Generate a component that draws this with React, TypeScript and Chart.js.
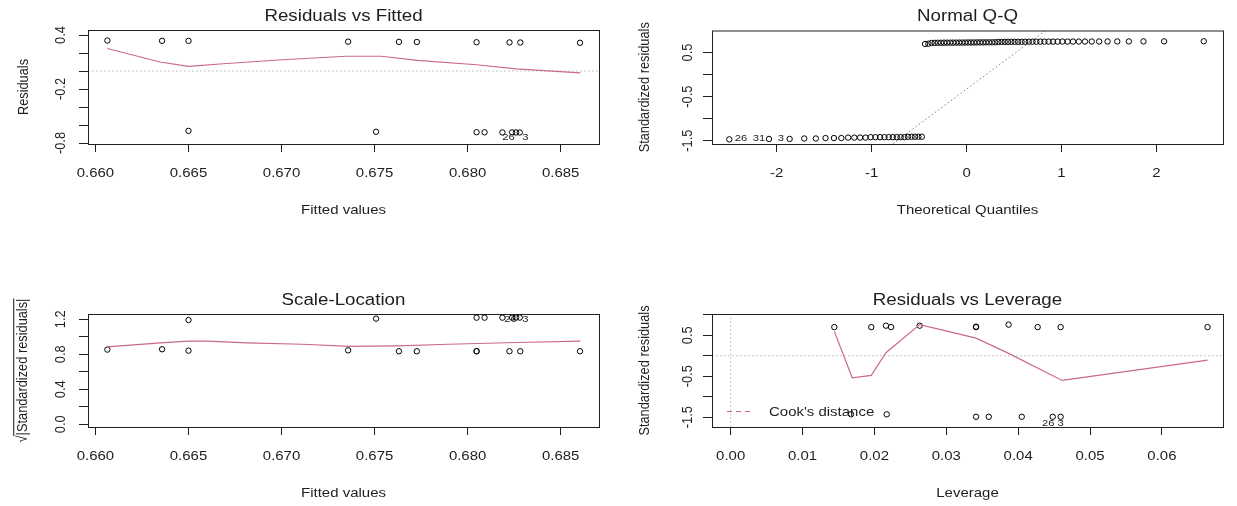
import { useEffect, useRef } from "react";
import { Chart, registerables } from "chart.js";

Chart.register(...registerables);

const PAGE_W = 1237;
const PAGE_H = 506;
const FONT = '"Liberation Sans", Arial, Helvetica, sans-serif';
const TEXT_SIZE = 12.8;
const STRETCH = 1.17;
const INK = "#1e1e1e";
const SMOOTH_RED = "#cb6a80";
const REF_GRAY = "#b4b4b4";
const QQ_GRAY = "#7f7f7f";

// ---------- Residuals vs Fitted ----------
const rvfFitted = [
  0.66064, 0.66358, 0.665, 0.67358, 0.67631, 0.67727, 0.68048, 0.68225, 0.68283, 0.68604,
  0.665, 0.67508, 0.68048, 0.68091, 0.68187, 0.68239, 0.6826, 0.6828,
];
const rvfResid = [
  0.339, 0.336, 0.335, 0.326, 0.324, 0.323, 0.32, 0.318, 0.317, 0.314,
  -0.665, -0.675, -0.68, -0.681, -0.682, -0.682, -0.683, -0.683,
];
const rvfSmoothX = [0.66064, 0.66347, 0.665, 0.66687, 0.66984, 0.67346, 0.67537, 0.67729, 0.68048, 0.6826, 0.68606];
const rvfSmoothY = [0.25, 0.1, 0.051, 0.081, 0.1225, 0.164, 0.164, 0.119, 0.07, 0.025, -0.02];
const rvfIdX = [0.6822, 0.6831];
const rvfIdY = [-0.736, -0.736];
const rvfIdText = ["26", "3"];

const fittedTicks = [0.66, 0.665, 0.67, 0.675, 0.68, 0.685];
const fittedTickLabels = ["0.660", "0.665", "0.670", "0.675", "0.680", "0.685"];
const residTicks = [-0.8, -0.6, -0.4, -0.2, 0, 0.2, 0.4];
const residLabelAt = [-0.8, -0.2, 0.4];
const residLabelText = ["-0.8", "-0.2", "0.4"];

// ---------- Normal Q-Q ----------
const qqTheoretical = [
  -2.4977, -2.0801, -1.8627, -1.7087, -1.5868, -1.4847, -1.3963, -1.318, -1.247, -1.1815,
  -1.1203, -1.0637, -1.0099, -0.9592, -0.9107, -0.8642, -0.8196, -0.7764, -0.7346, -0.6943,
  -0.6549, -0.6166, -0.5791, -0.5425, -0.5066, -0.4712, -0.4364, -0.4022, -0.3684, -0.3351,
  -0.3021, -0.2694, -0.2371, -0.2051, -0.1733, -0.1416, -0.11, -0.0784, -0.047, -0.0157,
  0.0157, 0.047, 0.0784, 0.11, 0.1416, 0.1733, 0.2051, 0.2371, 0.2694, 0.3021,
  0.3351, 0.3684, 0.4022, 0.4364, 0.4712, 0.5066, 0.5425, 0.5791, 0.6166, 0.6549,
  0.6943, 0.7346, 0.7764, 0.8196, 0.8642, 0.9107, 0.9592, 1.0099, 1.0637, 1.1203,
  1.1815, 1.247, 1.318, 1.3963, 1.4847, 1.5868, 1.7087, 1.8627, 2.0801, 2.4977,
];
const qqStdResid = [
  -1.47, -1.46, -1.46, -1.45, -1.45, -1.44, -1.44, -1.44, -1.43, -1.43,
  -1.43, -1.43, -1.42, -1.42, -1.42, -1.42, -1.42, -1.42, -1.42, -1.42,
  -1.42, -1.41, -1.41, -1.41, -1.41, -1.41,
  0.695, 0.7, 0.718, 0.72, 0.722, 0.722, 0.724, 0.724, 0.725, 0.725,
  0.726, 0.726, 0.727, 0.727, 0.728, 0.728, 0.729, 0.729, 0.73, 0.73,
  0.731, 0.731, 0.732, 0.733,
  0.74, 0.741, 0.742, 0.742, 0.743, 0.743, 0.744, 0.744, 0.745, 0.745,
  0.746, 0.746, 0.747, 0.747, 0.748, 0.748, 0.748, 0.749, 0.749, 0.749,
  0.75, 0.75, 0.75, 0.751, 0.751, 0.752, 0.752, 0.753, 0.754, 0.756,
];
const qqLineX = [-2.7, 2.7];
const qqLineY = [-4.65, 3.99];
const qqIdX = [-2.375, -2.186, -1.955];
const qqIdY = [-1.45, -1.45, -1.45];
const qqIdText = ["26", "31", "3"];

const quantTicks = [-2, -1, 0, 1, 2];
const quantTickLabels = ["-2", "-1", "0", "1", "2"];
const stdTicks = [-1.5, -1, -0.5, 0, 0.5];
const stdLabelAt = [-1.5, -0.5, 0.5];
const stdLabelText = ["-1.5", "-0.5", "0.5"];

// ---------- Scale-Location ----------
const slFitted = [
  0.66064, 0.66358, 0.665, 0.67358, 0.67631, 0.67727, 0.68048, 0.68048, 0.68225, 0.68283, 0.68604,
  0.665, 0.67508, 0.68048, 0.68091, 0.68187, 0.68239, 0.6826, 0.6828,
];
const slRootStd = [
  0.854, 0.858, 0.842, 0.846, 0.835, 0.835, 0.835, 0.836, 0.835, 0.835, 0.835,
  1.192, 1.208, 1.219, 1.219, 1.219, 1.219, 1.22, 1.22,
];
const slSmoothX = [0.66064, 0.66347, 0.665, 0.66602, 0.66814, 0.67112, 0.67367, 0.67622, 0.67898, 0.6826, 0.68606];
const slSmoothY = [0.885, 0.93, 0.95, 0.95, 0.93, 0.915, 0.89, 0.896, 0.915, 0.935, 0.95];
const slIdX = [0.6823, 0.6831];
const slIdY = [1.205, 1.205];
const slIdText = ["26", "3"];

const rootTicks = [0, 0.2, 0.4, 0.6, 0.8, 1, 1.2];
const rootLabelAt = [0, 0.4, 0.8, 1.2];
const rootLabelText = ["0.0", "0.4", "0.8", "1.2"];

// ---------- Residuals vs Leverage ----------
const levHat = [
  0.01442, 0.01956, 0.0216, 0.02232, 0.0263, 0.03414, 0.03414, 0.03867, 0.04271, 0.04591, 0.06635,
  0.01674, 0.02171, 0.03414, 0.03591, 0.0405, 0.04481, 0.04591,
];
const levStd = [
  0.7, 0.7, 0.735, 0.7, 0.735, 0.7, 0.71, 0.76, 0.7, 0.7, 0.7,
  -1.43, -1.43, -1.49, -1.49, -1.49, -1.49, -1.49,
];
const levSmoothX = [0.01442, 0.01691, 0.01956, 0.0216, 0.0263, 0.03414, 0.03867, 0.04613, 0.06635];
const levSmoothY = [0.595, -0.537, -0.48, 0.074, 0.76, 0.43, 0.058, -0.603, -0.107];
const levIdX = [0.0442, 0.0459];
const levIdY = [-1.64, -1.64];
const levIdText = ["26", "3"];

const levTicks = [0, 0.01, 0.02, 0.03, 0.04, 0.05, 0.06];
const levTickLabels = ["0.00", "0.01", "0.02", "0.03", "0.04", "0.05", "0.06"];
const levStdTicks = [-1.5, -1, -0.5, 0, 0.5, 1];

type Pt = { x: number; y: number };
const zip = (xs: number[], ys: number[]): Pt[] => xs.map((x, i) => ({ x, y: ys[i] }));

interface PanelDef {
  box: { left: number; right: number; top: number; bottom: number };
  xRange: [number, number];
  yRange: [number, number];
  xTicks: number[];
  xTickLabels: string[];
  yTicks: number[];
  yLabelAt: number[];
  yLabelText: string[];
  title: string;
  xTitle: string;
  yTitle: string;
  yTitleRoot?: boolean;
  yTickLabelX: number;
  yTitleX: number;
  points: Pt[];
  smooth: Pt[];
  refLines: { pts: Pt[]; color: string; dash: number[] }[];
  hRef?: number;
  vRef?: number;
  ids: { x: number; y: number; text: string }[];
  cookLegend?: boolean;
}

const ids = (xs: number[], ys: number[], t: string[]) => xs.map((x, i) => ({ x, y: ys[i], text: t[i] }));

const panels: PanelDef[] = [
  {
    box: { left: 88, right: 599, top: 30, bottom: 144 },
    xRange: [0.6596, 0.68706],
    yRange: [-0.811, 0.456],
    xTicks: fittedTicks,
    xTickLabels: fittedTickLabels,
    yTicks: residTicks,
    yLabelAt: residLabelAt,
    yLabelText: residLabelText,
    title: "Residuals vs Fitted",
    xTitle: "Fitted values",
    yTitle: "Residuals",
    yTickLabelX: 61,
    yTitleX: 24,
    points: zip(rvfFitted, rvfResid),
    smooth: zip(rvfSmoothX, rvfSmoothY),
    refLines: [],
    hRef: 0,
    ids: ids(rvfIdX, rvfIdY, rvfIdText),
  },
  {
    box: { left: 712, right: 1223, top: 30.5, bottom: 144 },
    xRange: [-2.68, 2.7],
    yRange: [-1.575, 1.0],
    xTicks: quantTicks,
    xTickLabels: quantTickLabels,
    yTicks: stdTicks,
    yLabelAt: stdLabelAt,
    yLabelText: stdLabelText,
    title: "Normal Q-Q",
    xTitle: "Theoretical Quantiles",
    yTitle: "Standardized residuals",
    yTickLabelX: 688,
    yTitleX: 645,
    points: zip(qqTheoretical, qqStdResid),
    smooth: [],
    refLines: [{ pts: zip(qqLineX, qqLineY), color: QQ_GRAY, dash: [1.5, 2.5] }],
    ids: ids(qqIdX, qqIdY, qqIdText),
  },
  {
    box: { left: 88, right: 599, top: 314, bottom: 427 },
    xRange: [0.6596, 0.68706],
    yRange: [-0.031, 1.261],
    xTicks: fittedTicks,
    xTickLabels: fittedTickLabels,
    yTicks: rootTicks,
    yLabelAt: rootLabelAt,
    yLabelText: rootLabelText,
    title: "Scale-Location",
    xTitle: "Fitted values",
    yTitle: "|Standardized residuals|",
    yTitleRoot: true,
    yTickLabelX: 61,
    yTitleX: 23,
    points: zip(slFitted, slRootStd),
    smooth: zip(slSmoothX, slSmoothY),
    refLines: [],
    ids: ids(slIdX, slIdY, slIdText),
  },
  {
    box: { left: 712, right: 1223, top: 314, bottom: 427 },
    xRange: [-0.0026, 0.0685],
    yRange: [-1.74, 1.02],
    xTicks: levTicks,
    xTickLabels: levTickLabels,
    yTicks: levStdTicks,
    yLabelAt: stdLabelAt,
    yLabelText: stdLabelText,
    title: "Residuals vs Leverage",
    xTitle: "Leverage",
    yTitle: "Standardized residuals",
    yTickLabelX: 688,
    yTitleX: 645,
    points: zip(levHat, levStd),
    smooth: zip(levSmoothX, levSmoothY),
    refLines: [],
    hRef: 0,
    vRef: 0,
    ids: ids(levIdX, levIdY, levIdText),
    cookLegend: true,
  },
];

function drawText(
  ctx: CanvasRenderingContext2D,
  s: string,
  x: number,
  y: number,
  size: number,
  rotate = false,
  align: CanvasTextAlign = "center",
) {
  ctx.save();
  ctx.translate(x, y);
  ctx.scale(STRETCH, 1);
  if (rotate) ctx.rotate(-Math.PI / 2);
  ctx.font = `${size}px ${FONT}`;
  ctx.fillStyle = INK;
  ctx.textAlign = align;
  ctx.textBaseline = "middle";
  ctx.fillText(s, 0, 0);
  ctx.restore();
}

function drawRootTitle(ctx: CanvasRenderingContext2D, body: string, x: number, y: number, size: number) {
  ctx.save();
  ctx.translate(x, y);
  ctx.scale(STRETCH, 1);
  ctx.rotate(-Math.PI / 2);
  ctx.font = `${size}px ${FONT}`;
  ctx.fillStyle = INK;
  ctx.strokeStyle = INK;
  ctx.textBaseline = "middle";
  const rad = "\u221A";
  const wr = ctx.measureText(rad).width;
  const wb = ctx.measureText(body).width;
  const start = -(wr + wb) / 2;
  ctx.textAlign = "left";
  ctx.fillText(rad, start, 0);
  ctx.fillText(body, start + wr, 0);
  ctx.lineWidth = 0.9;
  ctx.beginPath();
  ctx.moveTo(start + wr - 0.5, -size * 0.62);
  ctx.lineTo(start + wr + wb, -size * 0.62);
  ctx.stroke();
  ctx.restore();
}

function makePlugin(p: PanelDef) {
  return {
    id: "rPanel",
    afterDraw(chart: Chart) {
      const ctx = chart.ctx;
      const xs = chart.scales.x;
      const ys = chart.scales.y;
      const { left, right, top, bottom } = p.box;
      // plot frame
      ctx.save();
      ctx.strokeStyle = "#202020";
      ctx.lineWidth = 1;
      ctx.strokeRect(left + 0.5, top + 0.5, right - left, bottom - top);
      ctx.restore();

      drawText(ctx, p.title, (left + right) / 2, top - 13.5, TEXT_SIZE * 1.25);
      drawText(ctx, p.xTitle, (left + right) / 2, bottom + 66, TEXT_SIZE);
      if (p.yTitleRoot) drawRootTitle(ctx, p.yTitle, p.yTitleX, (top + bottom) / 2, TEXT_SIZE);
      else drawText(ctx, p.yTitle, p.yTitleX, (top + bottom) / 2, TEXT_SIZE, true);

      p.xTicks.forEach((v, i) => {
        drawText(ctx, p.xTickLabels[i], xs.getPixelForValue(v), bottom + 29, TEXT_SIZE);
      });
      p.yLabelAt.forEach((v, i) => {
        drawText(ctx, p.yLabelText[i], p.yTickLabelX, ys.getPixelForValue(v), TEXT_SIZE, true);
      });
      p.ids.forEach((d) => {
        drawText(ctx, d.text, xs.getPixelForValue(d.x), ys.getPixelForValue(d.y), TEXT_SIZE * 0.75);
      });

      if (p.cookLegend) {
        ctx.save();
        ctx.strokeStyle = SMOOTH_RED;
        ctx.lineWidth = 1;
        ctx.setLineDash([5, 4]);
        ctx.beginPath();
        ctx.moveTo(left + 15, bottom - 15.5);
        ctx.lineTo(left + 40, bottom - 15.5);
        ctx.stroke();
        ctx.restore();
        drawText(ctx, "Cook's distance", left + 57, bottom - 15, TEXT_SIZE, false, "left");
      }
    },
  };
}

function buildConfig(p: PanelDef): any {
  const datasets: any[] = [];
  if (p.smooth.length) {
    datasets.push({
      data: p.smooth,
      showLine: true,
      borderColor: SMOOTH_RED,
      borderWidth: 1.2,
      pointRadius: 0,
      tension: 0,
    });
  }
  datasets.push({
    data: p.points,
    showLine: false,
    pointRadius: 2.7,
    pointStyle: "circle",
    pointBorderWidth: 1,
    pointBorderColor: "#000",
    pointBackgroundColor: "rgba(0,0,0,0)",
  });
  p.refLines.forEach((r) =>
    datasets.push({
      data: r.pts,
      showLine: true,
      borderColor: r.color,
      borderWidth: 1,
      borderDash: r.dash,
      pointRadius: 0,
    }),
  );
  if (p.hRef !== undefined) {
    datasets.push({
      data: [
        { x: p.xRange[0], y: p.hRef },
        { x: p.xRange[1], y: p.hRef },
      ],
      showLine: true,
      borderColor: REF_GRAY,
      borderWidth: 1,
      borderDash: [1.5, 2.5],
      pointRadius: 0,
    });
  }
  if (p.vRef !== undefined) {
    datasets.push({
      data: [
        { x: p.vRef, y: p.yRange[0] },
        { x: p.vRef, y: p.yRange[1] },
      ],
      showLine: true,
      borderColor: REF_GRAY,
      borderWidth: 1,
      borderDash: [1.5, 2.5],
      pointRadius: 0,
    });
  }

  const axisCommon = {
    type: "linear",
    ticks: { display: false },
    border: { display: false },
  };

  return {
    type: "scatter",
    data: { datasets },
    options: {
      responsive: false,
      animation: false,
      events: [],
      layout: {
        padding: {
          left: p.box.left,
          right: PAGE_W - p.box.right,
          top: p.box.top,
          bottom: PAGE_H - p.box.bottom,
        },
      },
      plugins: {
        legend: { display: false },
        title: { display: false },
        tooltip: { enabled: false },
      },
      scales: {
        x: {
          ...axisCommon,
          position: "bottom",
          min: p.xRange[0],
          max: p.xRange[1],
          afterBuildTicks: (s: any) => {
            s.ticks = p.xTicks.map((v) => ({ value: v }));
          },
          afterFit: (s: any) => {
            s.height = 0;
          },
          grid: { drawOnChartArea: false, drawTicks: true, tickLength: 8, color: "#202020", lineWidth: 1 },
        },
        y: {
          ...axisCommon,
          position: "left",
          min: p.yRange[0],
          max: p.yRange[1],
          afterBuildTicks: (s: any) => {
            s.ticks = p.yTicks.map((v) => ({ value: v }));
          },
          afterFit: (s: any) => {
            s.width = 0;
          },
          grid: { drawOnChartArea: false, drawTicks: true, tickLength: 9, color: "#202020", lineWidth: 1 },
        },
      },
    },
    plugins: [makePlugin(p)],
  };
}

export default function App() {
  const refs = useRef<(HTMLCanvasElement | null)[]>([]);

  useEffect(() => {
    const charts = panels.map((p, i) => new Chart(refs.current[i] as HTMLCanvasElement, buildConfig(p)));
    return () => charts.forEach((c) => c.destroy());
  }, []);

  return (
    <div
      style={{
        position: "fixed",
        left: 0,
        top: 0,
        width: PAGE_W,
        height: PAGE_H,
        background: "#fff",
        overflow: "hidden",
      }}
    >
      {panels.map((_, i) => (
        <canvas
          key={i}
          ref={(el) => {
            refs.current[i] = el;
          }}
          width={PAGE_W}
          height={PAGE_H}
          style={{ position: "absolute", left: 0, top: 0, width: PAGE_W, height: PAGE_H }}
        />
      ))}
    </div>
  );
}
